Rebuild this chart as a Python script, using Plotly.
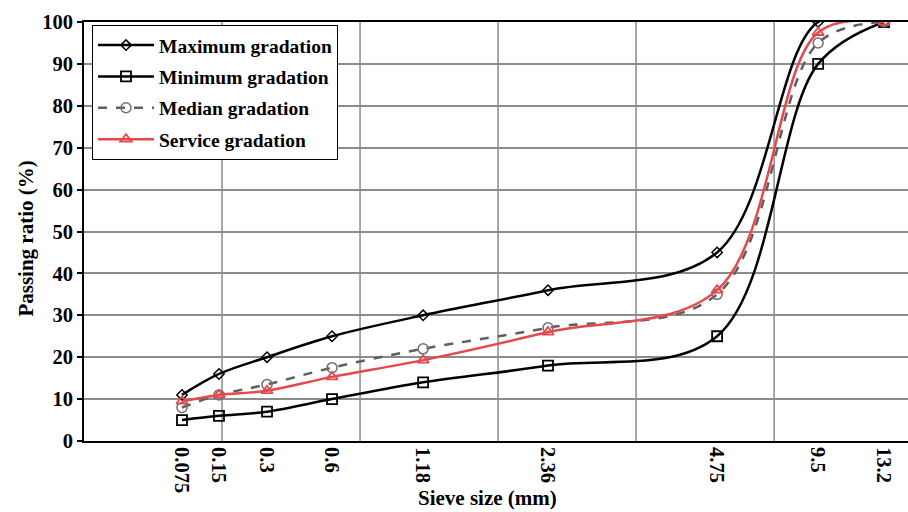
import plotly.graph_objects as go

sieve_labels = ["0.075", "0.15", "0.3", "0.6", "1.18", "2.36", "4.75", "9.5", "13.2"]
sieve_pos = [0.71, 0.978, 1.326, 1.797, 2.457, 3.362, 4.587, 5.319, 5.797]

max_grad = [11, 16, 20, 25, 30, 36, 45, 100, 100]
min_grad = [5, 6, 7, 10, 14, 18, 25, 90, 100]
median_grad = [8, 11, 13.5, 17.5, 22, 27, 35, 95, 100]
service_grad = [9.5, 11, 12, 15.3, 19.3, 26, 36, 97.5, 100]

FONT = "'Liberation Serif', 'Times New Roman', Times, serif"

fig = go.Figure()
fig.add_trace(go.Scatter(
    x=sieve_pos, y=max_grad, name="<b>Maximum gradation</b>", mode="lines+markers",
    line=dict(color="black", width=2.5, shape="spline", smoothing=1),
    marker=dict(symbol="diamond-open", size=8, color="black", line=dict(width=1.5)),
    legendgroup="a"))
fig.add_trace(go.Scatter(
    x=sieve_pos, y=min_grad, name="<b>Minimum gradation</b>", mode="lines+markers",
    line=dict(color="black", width=2.5, shape="spline", smoothing=1),
    marker=dict(symbol="square-open", size=10, color="black", line=dict(width=1.8)),
    legendgroup="b"))
fig.add_trace(go.Scatter(
    x=sieve_pos, y=median_grad, name="<b>Median gradation</b>", mode="lines+markers",
    line=dict(color="#5f5f5f", width=2.5, dash="dash", shape="spline", smoothing=1),
    marker=dict(symbol="circle-open", size=10, color="#707070", line=dict(width=1.5)),
    legendgroup="c"))
fig.add_trace(go.Scatter(
    x=sieve_pos, y=service_grad, name="<b>Service gradation</b>", mode="lines+markers",
    line=dict(color="#e5484d", width=2.5, shape="spline", smoothing=1),
    marker=dict(symbol="triangle-up-open", size=10, color="#e5484d", line=dict(width=1.8)),
    legendgroup="d"))

fig.update_layout(
    width=908, height=512,
    margin=dict(l=84, r=0, t=22, b=71),
    paper_bgcolor="white", plot_bgcolor="white",
    font=dict(family=FONT, size=18, color="black"),
    showlegend=True,
    legend=dict(
        x=0.0097, y=0.993, xanchor="left", yanchor="top",
        bgcolor="white", bordercolor="black", borderwidth=1,
        font=dict(family=FONT, size=19.5, color="black"),
        traceorder="grouped", tracegroupgap=3, itemwidth=56,
    ),
    xaxis=dict(
        range=[0, 5.97], tickmode="array", tickvals=sieve_pos,
        ticktext=["<b>%s</b>" % t for t in sieve_labels],
        tickangle=90, showgrid=False, zeroline=False,
        showline=True, linecolor="black", linewidth=2, mirror=True,
        ticks="", tickfont=dict(family=FONT, size=20.5, color="black"),
    ),
    yaxis=dict(
        range=[0, 100],
        tickvals=list(range(0, 101, 10)),
        ticktext=["<b>%d</b>" % v for v in range(0, 101, 10)],
        showgrid=True, gridcolor="#8c8c8c", gridwidth=1.5, zeroline=False,
        showline=True, linecolor="black", linewidth=2,
        ticks="outside", ticklen=5, tickcolor="black", tickwidth=1.5,
        tickfont=dict(family=FONT, size=20.5, color="black"),
    ),
)

# vertical gridlines at integer x units
for gx in range(1, 6):
    fig.add_shape(type="line", xref="x", yref="paper", x0=gx, x1=gx, y0=0, y1=1,
                  line=dict(color="#8c8c8c", width=1.5), layer="below")

fig.add_annotation(text="<b>Passing ratio (%)</b>", xref="paper", yref="paper",
                   x=0, y=0.483, xshift=-58, textangle=-90, showarrow=False,
                   xanchor="center", yanchor="middle",
                   font=dict(family=FONT, size=21, color="black"))
fig.add_annotation(text="<b>Sieve size (mm)</b>", xref="paper", yref="paper",
                   x=0.49, y=0, yshift=-57, showarrow=False,
                   xanchor="center", yanchor="middle",
                   font=dict(family=FONT, size=21, color="black"))

fig.write_html("out.html")
